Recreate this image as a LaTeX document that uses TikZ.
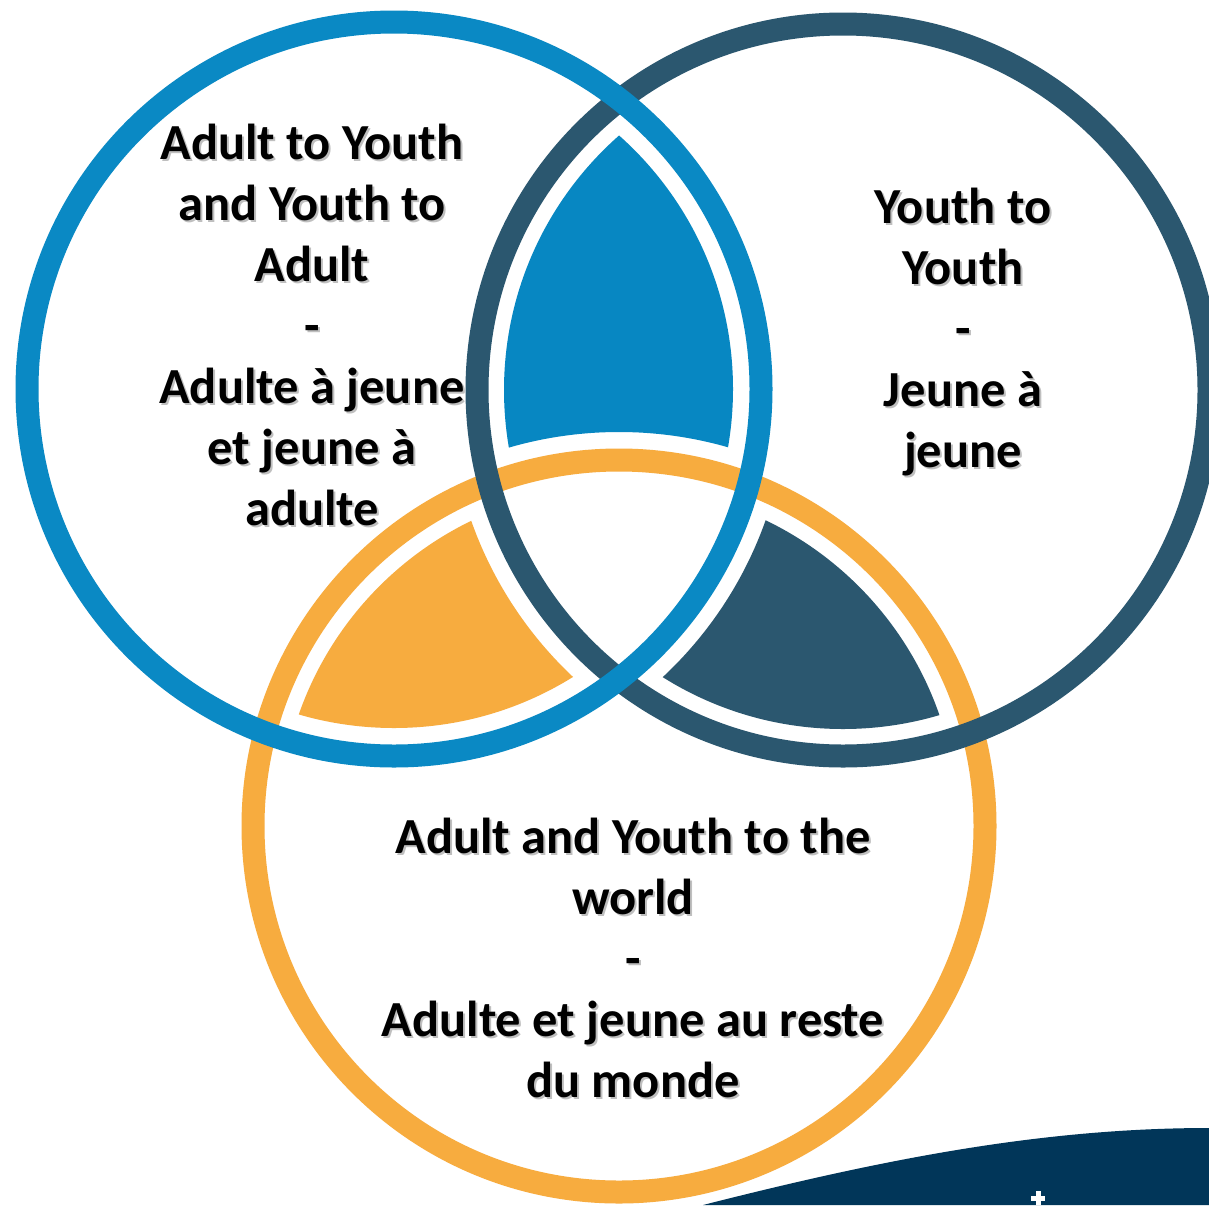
\documentclass[tikz,border=0pt]{standalone}
\usepackage{fontspec}
\setmainfont{Carlito}
\definecolor{cblue}{HTML}{0A89C4}
\definecolor{cbluefill}{HTML}{0787C2}
\definecolor{cdark}{HTML}{2B576F}
\definecolor{corange}{HTML}{F7AC3F}
\definecolor{cnavy}{HTML}{013659}
\newcommand\shtext[1]{\rlap{\kern2pt\raisebox{-2pt}{\color{black!25}#1}}#1}
\tikzset{
  ring/.style={line width=23pt},
  lbl/.style={anchor=base, inner sep=0pt, font=\bfseries\fontsize{50.5}{61}\selectfont},
}
\begin{document}
\begin{tikzpicture}[x=1pt,y=-1pt]
\useasboundingbox (0,0) rectangle (1209,1205);
\fill[white] (0,0) rectangle (1209,1205);
\coordinate (B) at (394,389);
\coordinate (D) at (843,390);
\coordinate (O) at (619,826);

% navy wave
\fill[cnavy] (703,1205) .. controls (880,1160) and (1040,1128) .. (1209,1128) -- (1209,1205) -- cycle;
\fill[white] (1035.5,1191) rectangle (1040.5,1205);
\fill[white] (1031,1196) rectangle (1045,1201);

% lens fills
\begin{scope}
  \clip (B) circle[radius=339pt];
  \clip (D) circle[radius=339pt];
  \fill[cbluefill, even odd rule] (B) circle[radius=420pt] (O) circle[radius=394pt];
\end{scope}
\begin{scope}
  \clip (B) circle[radius=339pt];
  \clip (O) circle[radius=339pt];
  \fill[corange, even odd rule] (B) circle[radius=420pt] (D) circle[radius=394pt];
\end{scope}
\begin{scope}
  \clip (D) circle[radius=339pt];
  \clip (O) circle[radius=339pt];
  \fill[cdark, even odd rule] (D) circle[radius=420pt] (B) circle[radius=394pt];
\end{scope}

% rings
\draw[ring, corange] (O) circle[radius=366pt];
\draw[ring, cdark] (D) circle[radius=366pt];
\draw[ring, cblue] (B) circle[radius=367pt];

% left text
\node[lbl] (l1) at (312,159) {\shtext{Adult to Youth}};
\node[lbl] (l2) at (312,220) {\shtext{and Youth to}};
\node[lbl] (l3) at (312,281) {\shtext{Adult}};
\node[lbl] (l4) at (312,342) {\shtext{-}};
\node[lbl] (l5) at (312,403) {\shtext{Adulte à jeune}};
\node[lbl] (l6) at (312,464) {\shtext{et jeune à}};
\node[lbl] (l7) at (312,525) {\shtext{adulte}};

% right text
\node[lbl] (r1) at (963,223) {\shtext{Youth to}};
\node[lbl] (r2) at (963,284) {\shtext{Youth}};
\node[lbl] (r3) at (963,345) {\shtext{-}};
\node[lbl] (r4) at (963,406) {\shtext{Jeune à}};
\node[lbl] (r5) at (963,467) {\shtext{jeune}};

% bottom text
\node[lbl] (b1) at (633,853) {\shtext{Adult and Youth to the}};
\node[lbl] (b2) at (633,914) {\shtext{world}};
\node[lbl] (b3) at (633,975) {\shtext{-}};
\node[lbl] (b4) at (633,1036) {\shtext{Adulte et jeune au reste}};
\node[lbl] (b5) at (633,1097) {\shtext{du monde}};
\end{tikzpicture}
\end{document}
